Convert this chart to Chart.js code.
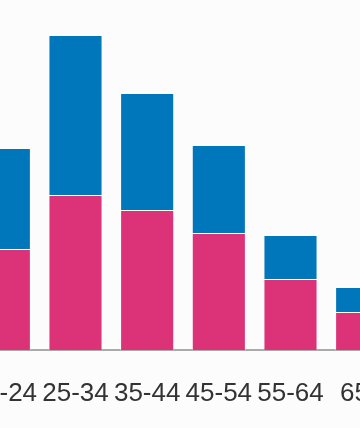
<!DOCTYPE html>
<html>
<head>
<meta charset="utf-8">
<script src="https://cdn.jsdelivr.net/npm/chart.js@4/dist/chart.umd.min.js"></script>
<style>
  html, body { margin: 0; padding: 0; background: #fcfcfc; overflow: hidden; width: 360px; height: 428px; }
  #wrap { position: absolute; left: -32px; top: 0; width: 430px; height: 428px; }
</style>
</head>
<body>
<div id="wrap"><canvas id="ageChart" width="430" height="428"></canvas></div>
<script>
// age groups
const grupos = ["18-24", "25-34", "35-44", "45-54", "55-64", "65+"];
// bottom (pink) and top (blue) segments
const mujeres = [10.1, 15.5, 14.0, 11.7, 7.1, 3.8];
const hombres = [10.1, 16.0, 11.7, 8.8, 4.4, 2.5];
const yMax = 35;

const ctx = document.getElementById("ageChart").getContext("2d");
new Chart(ctx, {
    type: "bar",
    data: {
        labels: grupos,
        datasets: [
            { label: "Mujeres", data: mujeres, backgroundColor: "#dc3278", borderColor: "rgba(255,255,255,0.55)", borderWidth: 1 },
            { label: "Hombres", data: hombres, backgroundColor: "#0077bb", borderColor: "rgba(255,255,255,0.55)", borderWidth: 1 }
        ]
    },
    options: {
        responsive: false,
        animation: false,
        layout: { padding: 0 },
        plugins: { legend: { display: false }, tooltip: { enabled: false } },
        datasets: { bar: { categoryPercentage: 1, barPercentage: 0.755 } },
        scales: {
            x: {
                stacked: true,
                grid: { display: false },
                border: { display: true, color: "#aaaaaa", width: 2 },
                ticks: { color: "#333333", padding: 20, font: { family: "Liberation Sans, Arial, sans-serif", size: 26 }, maxRotation: 0, autoSkip: false },
                afterFit: (scale) => {
                    scale.height = 78;
                    // let the chart area use the full canvas width
                    scale.paddingLeft = 0;
                    scale.paddingRight = 0;
                }
            },
            y: { stacked: true, display: false, min: 0, max: yMax }
        }
    }
});
</script>
</body>
</html>
